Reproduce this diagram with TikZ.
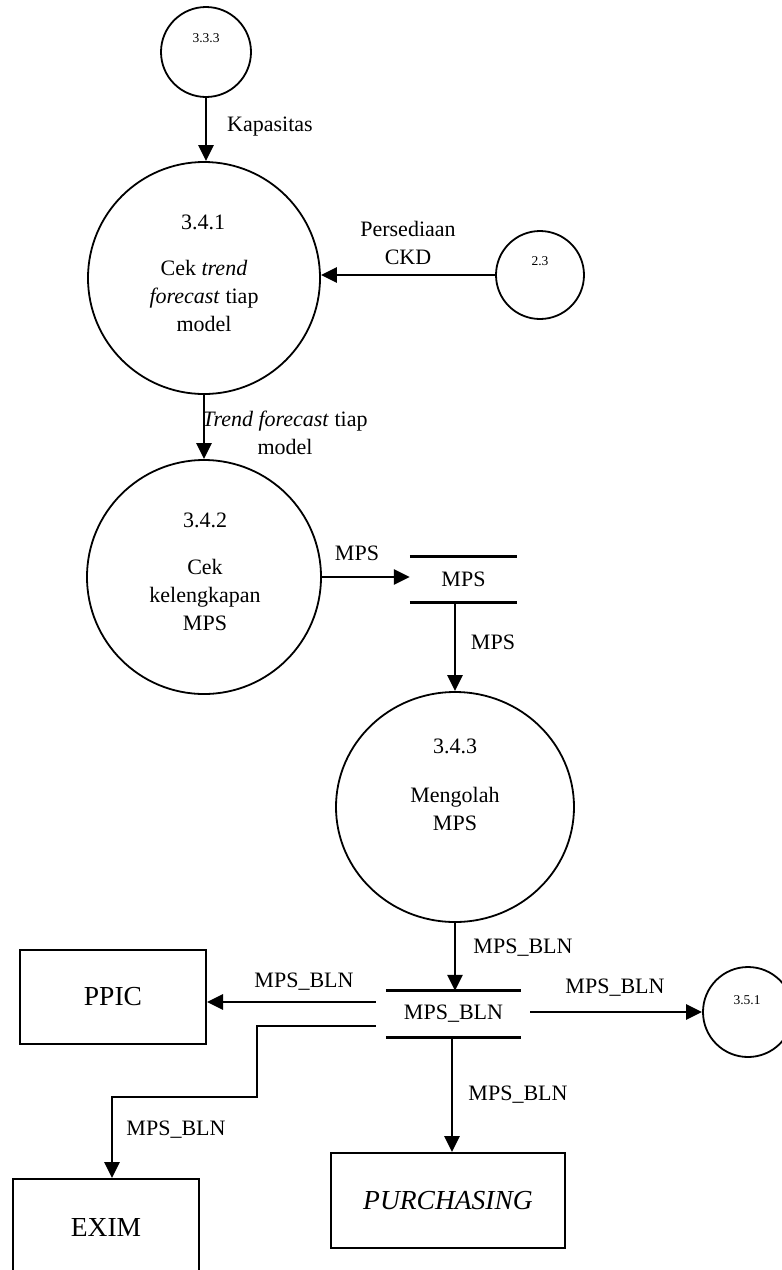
\documentclass[tikz,border=0pt]{standalone}
\usepackage{fontspec}
\setmainfont{Liberation Serif}
\usetikzlibrary{arrows.meta,shapes.geometric}
\begin{document}
\begin{tikzpicture}[x=1pt,y=-1pt,
  proc/.style={draw,circle,line width=1.8pt,inner sep=0pt,minimum size=#1},
  txt/.style={font=\fontsize{22}{28}\selectfont,align=center,inner sep=0pt},
  small/.style={font=\fontsize{13.5}{16}\selectfont,inner sep=0pt},
  entity/.style={draw,line width=2pt,inner sep=0pt,font=\fontsize{27.5}{32}\selectfont},
  store/.style={inner sep=0pt,font=\fontsize{22}{28}\selectfont},
  storeline/.style={line width=2.8pt},
  flow/.style={line width=2.8pt,-{Triangle[length=16pt,width=15pt]}}
]
\useasboundingbox (0,0) rectangle (782,1270);

% processes
\node[proc=90] (p333) at (206,52) {};
\node[small] (t333) at (206,38) {3.3.3};

\node[proc=232] (p341) at (204,278) {};
\node[txt] (n341) at (203,222) {3.4.1};
\node[txt] (t341) at (204,296) {Cek \textit{trend}\\\textit{forecast} tiap\\model};

\node[proc=88] (p23) at (540,275) {};
\node[small] (t23) at (540,261) {2.3};

\node[proc=234] (p342) at (204,577) {};
\node[txt] (n342) at (205,520) {3.4.2};
\node[txt] (t342) at (205,595) {Cek\\kelengkapan\\MPS};

\node[draw,ellipse,line width=1.8pt,inner sep=0pt,minimum width=238,minimum height=230] (p343) at (455,807) {};
\node[txt] (n343) at (455,746) {3.4.3};
\node[txt] (t343) at (455,809) {Mengolah\\MPS};

\node[proc=90] (p351) at (748,1012) {};
\node[small] (t351) at (747,1000) {3.5.1};

% data stores
\node[store,minimum width=107,minimum height=45] (s1) at (463.5,579.5) {MPS};
\draw[storeline] (s1.north west) -- (s1.north east) (s1.south west) -- (s1.south east);

\node[store,minimum width=135,minimum height=46] (s2) at (453.5,1014) {MPS\_BLN};
\draw[storeline] (s2.north west) -- (s2.north east) (s2.south west) -- (s2.south east);

% external entities
\node[entity,minimum width=186,minimum height=94] (ppic) at (113,997) {PPIC};
\node[entity,minimum width=186,minimum height=96] (exim) at (106,1227) {EXIM};
\node[entity,minimum width=234,minimum height=95] (purch) at (448,1200.5) {\textit{PURCHASING}};

% data flows
\draw[flow] (p333.south) -- (p333.south |- p341.north);
\node[txt,anchor=west] (l1) at (227,127) {Kapasitas};

\draw[flow] (p23.west) -- (p341.east |- p23.west);
\node[txt] (l2) at (408,243) {Persediaan\\CKD};

\draw[flow] (p341.south) -- (p341.south |- p342.north);
\node[txt] (l3) at (285,433) {\textit{Trend forecast} tiap\\model};

\draw[flow] (p342.east) -- (p342.east -| s1.west);
\node[txt] (l4) at (357,553) {MPS};

\draw[flow] (p343.north |- s1.south) -- (p343.north);
\node[txt] (l5) at (493,642) {MPS};

\draw[flow] (p343.south) -- (p343.south |- s2.north);
\node[txt] (l6) at (523,948) {MPS\_BLN};

\draw[flow] ([xshift=-10pt,yshift=12pt]s2.west) -- (ppic.east |- 0,1002);
\node[txt] (l7) at (304,982) {MPS\_BLN};

\draw[flow] ([xshift=9pt]s2.east |- p351.west) -- (p351.west);
\node[txt] (l8) at (615,988) {MPS\_BLN};

\coordinate (bend) at (257,1097);
\draw[flow] ([xshift=-10pt,yshift=-12pt]s2.west) -| (bend) -| ([xshift=6pt]exim.north);
\node[txt] (l9) at (176,1130) {MPS\_BLN};

\draw[flow] ([xshift=-1.5pt]s2.south) -- ([xshift=-1.5pt]s2.south |- purch.north);
\node[txt] (l10) at (518,1095) {MPS\_BLN};
\end{tikzpicture}
\end{document}
